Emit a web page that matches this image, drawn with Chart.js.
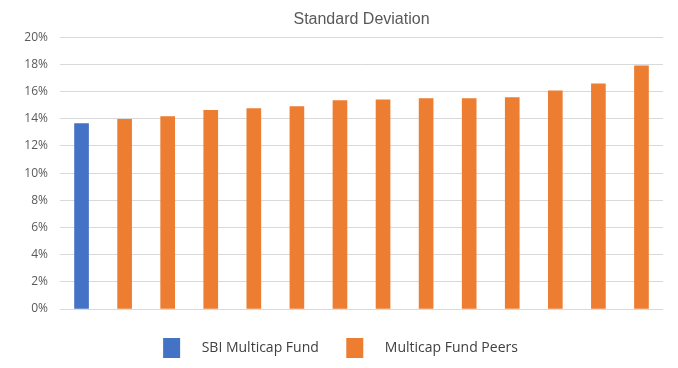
<!DOCTYPE html>
<html>
<head>
<meta charset="utf-8">
<script src="https://cdn.jsdelivr.net/npm/chart.js@4/dist/chart.umd.min.js"></script>
<style>
    body { margin: 0; background: #ffffff; }
    #wrap { width: 678px; height: 368px; }
</style>
</head>
<body>
<div id="wrap"><canvas id="sdChart"></canvas></div>
<script>
// Data
const funds = ['SBI Multicap Fund', 'Peer 1', 'Peer 2', 'Peer 3', 'Peer 4', 'Peer 5', 'Peer 6',
    'Peer 7', 'Peer 8', 'Peer 9', 'Peer 10', 'Peer 11', 'Peer 12', 'Peer 13'];
const sbiValues = [13.65];
const peerValues = [13.96, 14.16, 14.62, 14.74, 14.89, 15.33, 15.40, 15.48, 15.48, 15.55, 16.06, 16.57, 17.89];
const yTicks = [0, 2, 4, 6, 8, 10, 12, 14, 16, 18, 20];

// one slot per fund, each series only fills its own slots
const sbiData = funds.map((f, i) => i < sbiValues.length ? sbiValues[i] : null);
const peerData = funds.map((f, i) => i < sbiValues.length ? null : peerValues[i - sbiValues.length]);

new Chart(document.getElementById('sdChart').getContext('2d'), {
    type: 'bar',
    data: {
        labels: funds,
        datasets: [{
            label: 'SBI Multicap Fund',
            data: sbiData,
            backgroundColor: '#4472C4',
            barThickness: 14
        }, {
            label: 'Multicap Fund Peers',
            data: peerData,
            backgroundColor: '#ED7D31',
            barThickness: 14
        }]
    },
    options: {
        responsive: true,
        maintainAspectRatio: false,
        animation: false,
        layout: { padding: { top: 0, right: 15, bottom: 0, left: 18 } },
        plugins: {
            title: {
                display: true,
                fullSize: false, // centre over the plot area
                text: 'Standard Deviation',
                color: '#595959',
                font: { family: 'Liberation Sans', size: 16, weight: 'normal' },
                padding: { top: 10, bottom: 8 }
            },
            legend: {
                position: 'bottom',
                labels: {
                    color: '#404040',
                    font: { family: 'Open Sans', size: 14 },
                    boxWidth: 17,
                    boxHeight: 20,
                    padding: 2,
                    // spaces widen the gap after the box and between the items
                    generateLabels: (chart) => chart.data.datasets.map((ds, i) => ({
                        text: '    ' + ds.label + (i === 0 ? '       ' : ''),
                        fillStyle: ds.backgroundColor,
                        strokeStyle: ds.backgroundColor,
                        lineWidth: 0,
                        datasetIndex: i,
                        fontColor: '#404040'
                    }))
                }
            },
            tooltip: { enabled: false }
        },
        scales: {
            x: {
                stacked: true,
                grid: { display: false },
                border: { display: false },
                ticks: { display: false },
                afterFit: (axis) => { axis.height = 27; }
            },
            y: {
                min: 0,
                max: 20,
                afterBuildTicks: (axis) => { axis.ticks = yTicks.map(v => ({ value: v })); },
                afterFit: (axis) => { axis.width = 42; },
                grid: { color: '#d9d9d9', lineWidth: 1, drawTicks: false },
                border: { display: false },
                ticks: {
                    color: '#595959',
                    font: { family: 'Open Sans', size: 12 },
                    padding: 12,
                    callback: (v) => v + '%'
                }
            }
        }
    }
});
</script>
</body>
</html>
